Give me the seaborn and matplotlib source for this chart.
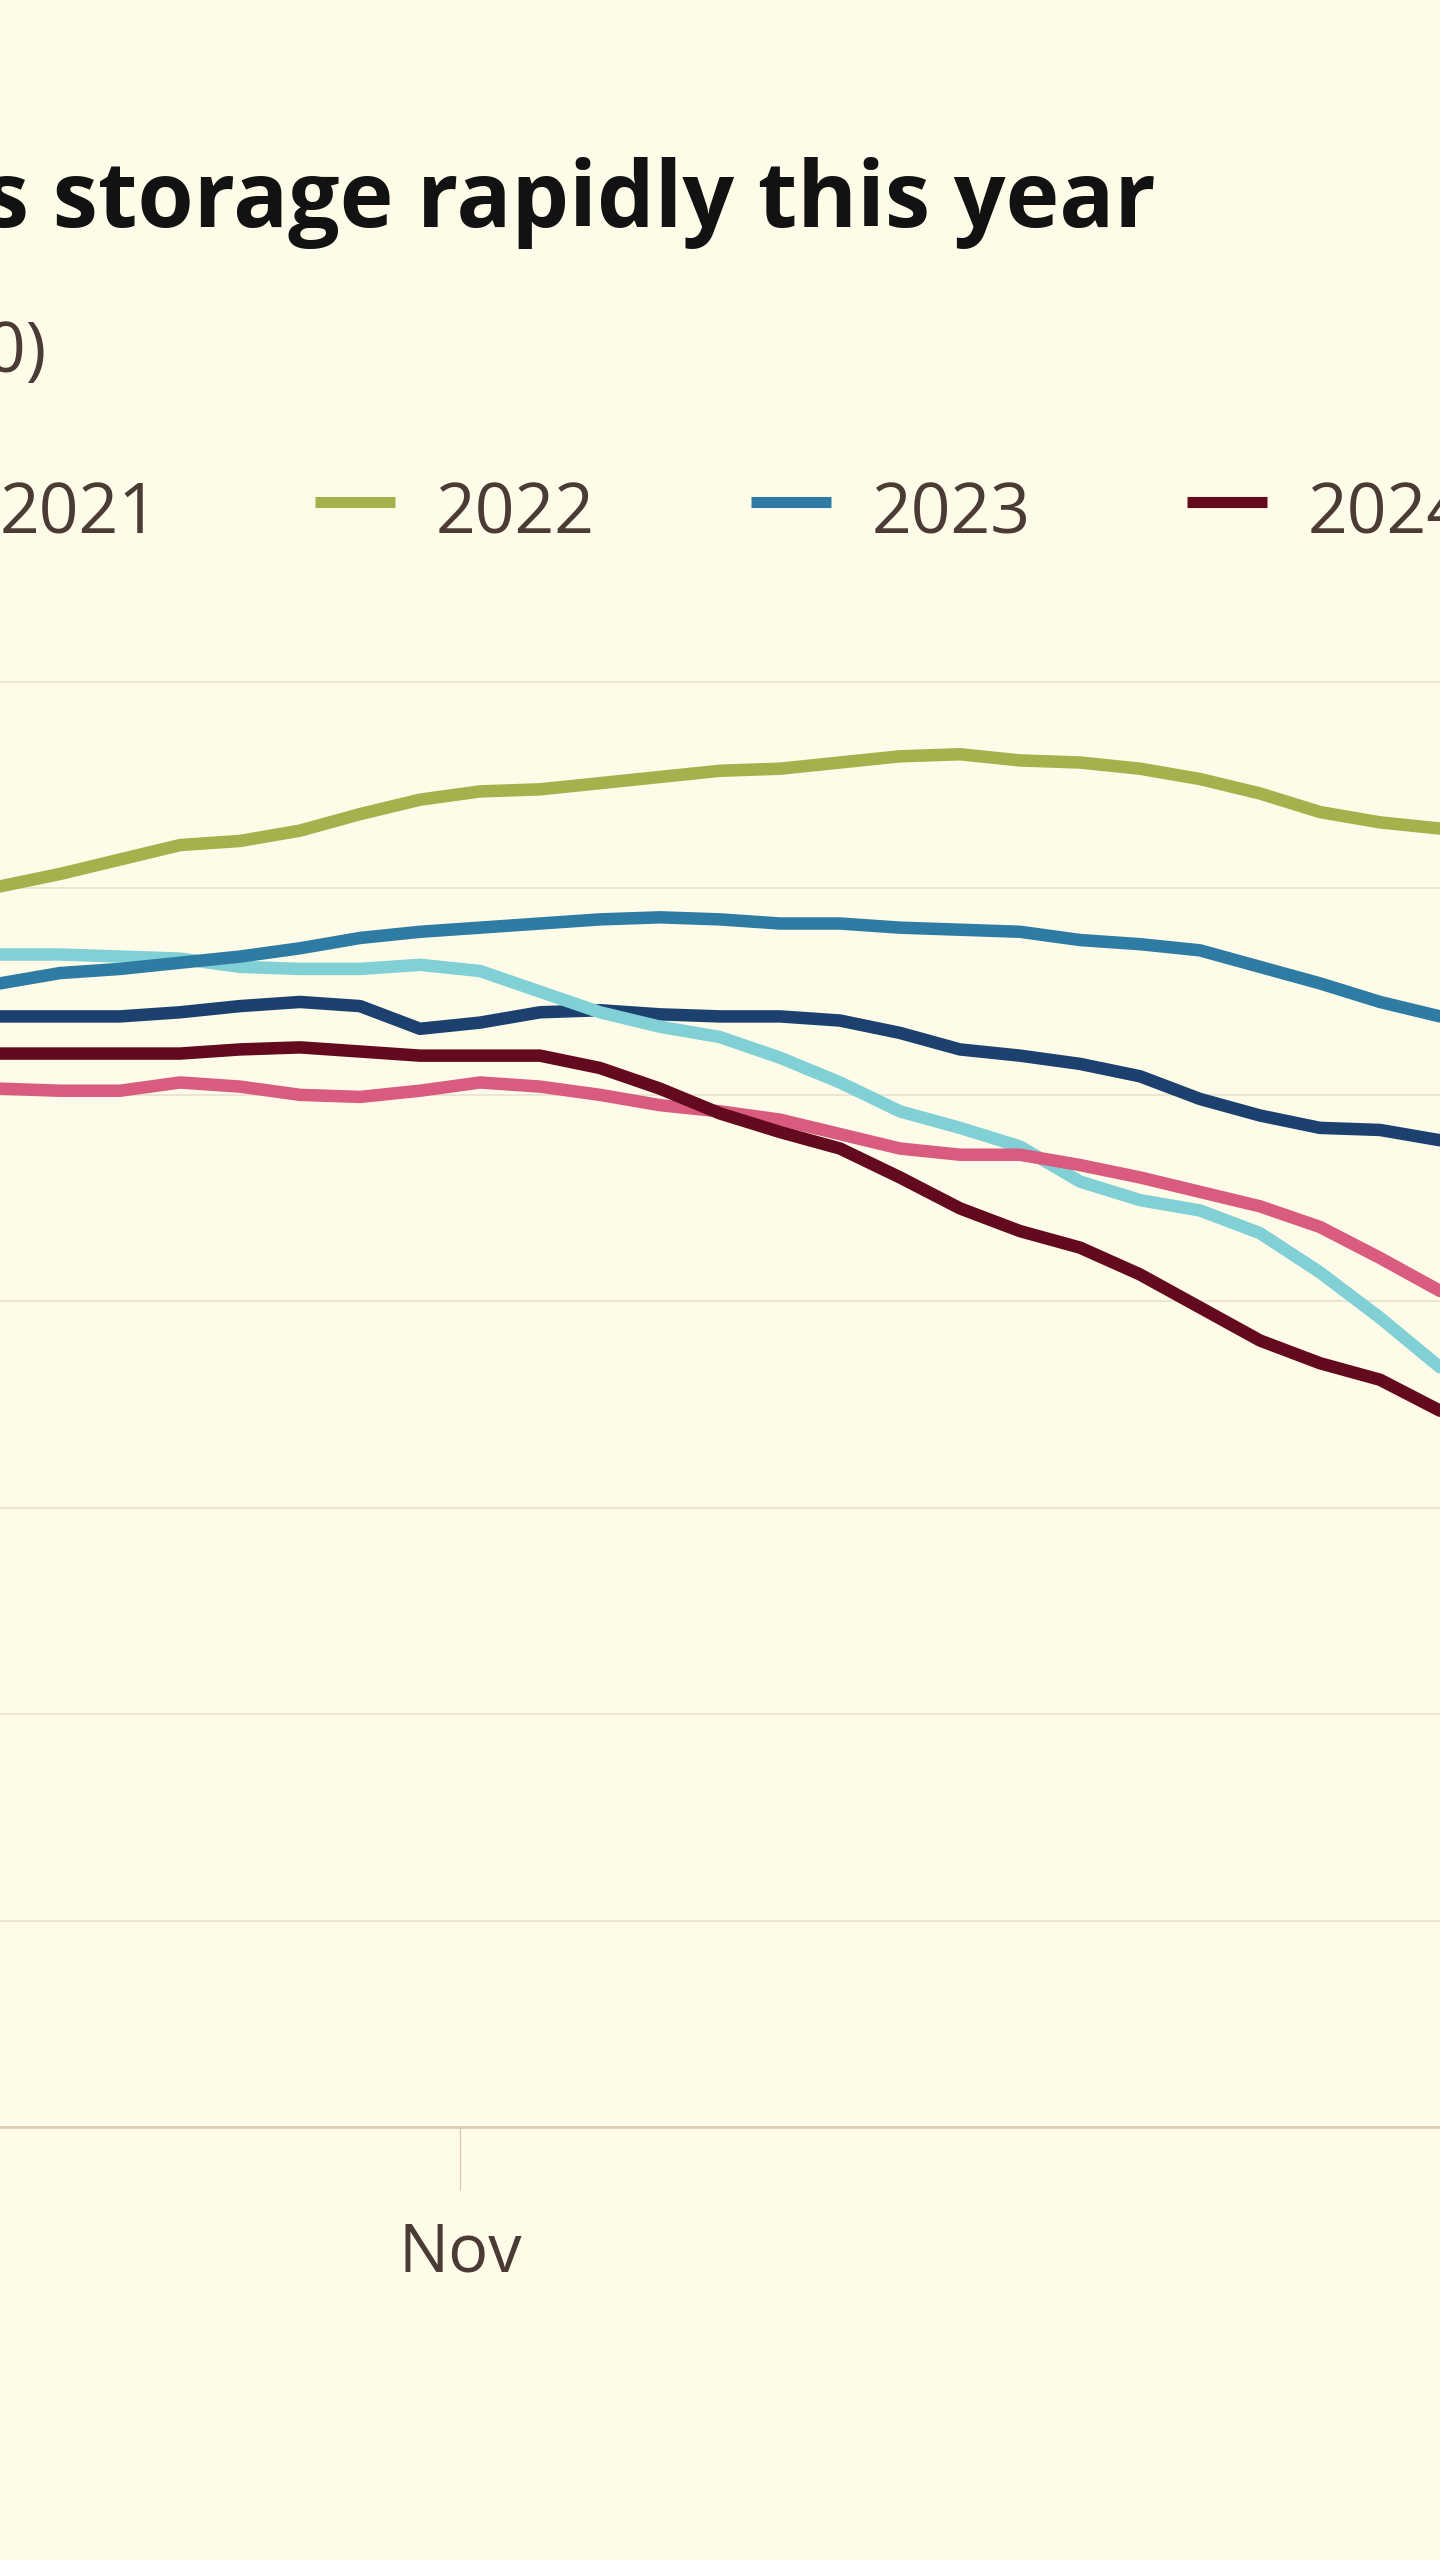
import matplotlib
matplotlib.use("Agg")
import matplotlib.pyplot as plt
import matplotlib.dates as mdates
from matplotlib.lines import Line2D
import seaborn as sns
import pandas as pd

# ---------------- data ----------------
dates = [
    "2024-10-20 12:00", "2024-10-22 00:00", "2024-10-23 12:00", "2024-10-25 00:00",
    "2024-10-26 12:00", "2024-10-28 00:00", "2024-10-29 12:00", "2024-10-31 00:00",
    "2024-11-01 12:00", "2024-11-03 00:00", "2024-11-04 12:00", "2024-11-06 00:00",
    "2024-11-07 12:00", "2024-11-09 00:00", "2024-11-10 12:00", "2024-11-12 00:00",
    "2024-11-13 12:00", "2024-11-15 00:00", "2024-11-16 12:00", "2024-11-18 00:00",
    "2024-11-19 12:00", "2024-11-21 00:00", "2024-11-22 12:00", "2024-11-24 00:00",
    "2024-11-25 12:00",
]
years = ["2019", "2020", "2021", "2022", "2023", "2024"]

s2019 = [83.8, 83.8, 83.8, 84.0, 84.3, 84.5, 84.3, 83.2, 83.5, 84.0, 84.1, 83.9, 83.8,
         83.8, 83.6, 83.0, 82.2, 81.9, 81.5, 80.9, 79.8, 79.0, 78.4, 78.3, 77.8]
s2020 = [86.8, 86.8, 86.7, 86.6, 86.2, 86.1, 86.1, 86.3, 86.0, 85.0, 84.0, 83.3, 82.8,
         81.8, 80.6, 79.2, 78.4, 77.5, 75.8, 74.9, 74.4, 73.3, 71.4, 69.2, 66.8]
s2021 = [80.3, 80.2, 80.2, 80.6, 80.4, 80.0, 79.9, 80.2, 80.6, 80.4, 80.0, 79.5, 79.2,
         78.8, 78.1, 77.4, 77.1, 77.1, 76.6, 76.0, 75.3, 74.6, 73.6, 72.1, 70.5]
s2022 = [90.1, 90.7, 91.4, 92.1, 92.3, 92.8, 93.6, 94.3, 94.7, 94.8, 95.1, 95.4, 95.7,
         95.8, 96.1, 96.4, 96.5, 96.2, 96.1, 95.8, 95.3, 94.6, 93.7, 93.2, 92.9]
s2023 = [85.4, 85.9, 86.1, 86.4, 86.7, 87.1, 87.6, 87.9, 88.1, 88.3, 88.5, 88.6, 88.5,
         88.3, 88.3, 88.1, 88.0, 87.9, 87.5, 87.3, 87.0, 86.2, 85.4, 84.5, 83.8]
s2024 = [82.0, 82.0, 82.0, 82.0, 82.2, 82.3, 82.1, 81.9, 81.9, 81.9, 81.3, 80.3, 79.1,
         78.2, 77.4, 76.0, 74.5, 73.4, 72.6, 71.3, 69.7, 68.1, 67.0, 66.2, 64.7]
series = [s2019, s2020, s2021, s2022, s2023, s2024]

ytick_values = [30, 40, 50, 60, 70, 80, 90, 100]

TITLE = "Europe draws down gas storage rapidly this year"
SUBTITLE = "EU gas storage levels (% of capacity, 1 Oct = 100)"

# ---------------- style ----------------
BG = "#FEFCE8"
GRID = "#E7E2CF"
AXISC = "#DDC7AE"
TXT = "#4A3B34"
palette = {
    "2019": "#1D416F",
    "2020": "#80D0D6",
    "2021": "#D95C80",
    "2022": "#A6B04C",
    "2023": "#2E7CA4",
    "2024": "#640A1E",
}

rows = []
for yr, vals in zip(years, series):
    for d, v in zip(dates, vals):
        rows.append({"date": pd.Timestamp(d), "value": v, "year": yr})
df = pd.DataFrame(rows)

sns.set_theme(style="white")
plt.rcParams["font.family"] = ["Open Sans", "DejaVu Sans"]

W, H = 1440, 2560
fig = plt.figure(figsize=(W / 100, H / 100), dpi=100, facecolor=BG)

def fx(px):
    return px / W

def fy(py):
    return 1 - py / H

# axes: y 30 at pixel 2127, 102 at top; full width
ppu = (2127 - 682) / 70.0
ax_bottom = fy(2127)
ax_height = 72 * ppu / H
ax = fig.add_axes([0, ax_bottom, 1, ax_height])
ax.set_facecolor(BG)

sns.lineplot(data=df, x="date", y="value", hue="year", hue_order=years,
             palette=palette, linewidth=9, legend=False, errorbar=None,
             ax=ax)
for ln in ax.get_lines():
    ln.set_solid_capstyle("round")
    ln.set_solid_joinstyle("round")

ax.set_xlim(pd.Timestamp("2024-10-20 12:00"), pd.Timestamp("2024-11-25 12:00"))
ax.set_ylim(30, 102)
ax.set_yticks(ytick_values)
ax.set_axisbelow(True)
ax.yaxis.grid(True, color=GRID, linewidth=1.2)
ax.xaxis.grid(False)
ax.tick_params(axis="y", left=False, right=False, labelleft=False)
ax.xaxis.set_major_locator(mdates.MonthLocator())
ax.xaxis.set_major_formatter(mdates.DateFormatter("%b"))
ax.tick_params(axis="x", bottom=True, length=45, width=0.9, color=AXISC,
               pad=22, labelsize=48, labelcolor=TXT, direction="out")
for side in ["top", "left", "right"]:
    ax.spines[side].set_visible(False)
ax.spines["bottom"].set_color(AXISC)
ax.spines["bottom"].set_linewidth(1.8)
ax.set_xlabel("")
ax.set_ylabel("")

renderer = fig.canvas.get_renderer()

# ---------------- title ----------------
tmp = fig.text(0, 0, "storage rapidly this year", fontsize=60, weight="bold")
w_tmp = tmp.get_window_extent(renderer).width
tmp.remove()
title_fs = 60 * 1102 / w_tmp
fig.text(fx(1156), fy(227), TITLE, fontsize=title_fs, weight="bold",
         ha="right", va="baseline", color="#121212")

# ---------------- subtitle ----------------
fig.text(fx(46), fy(372), SUBTITLE, fontsize=50, ha="right", va="baseline",
         color=TXT)

# ---------------- legend ----------------
tmp = fig.text(0, 0, "2022", fontsize=50)
w_tmp = tmp.get_window_extent(renderer).width
tmp.remove()
leg_fs = 50 * 159 / w_tmp
for i, yr in enumerate(years):
    xm = 315 + (i - 3) * 436
    fig.add_artist(Line2D([fx(xm), fx(xm + 80)], [fy(502), fy(502)],
                          transform=fig.transFigure, color=palette[yr],
                          linewidth=8, solid_capstyle="butt"))
    fig.text(fx(xm + 121), fy(533), yr, fontsize=leg_fs, ha="left",
             va="baseline", color=TXT)

fig.savefig("out.png", dpi=100, facecolor=BG)
